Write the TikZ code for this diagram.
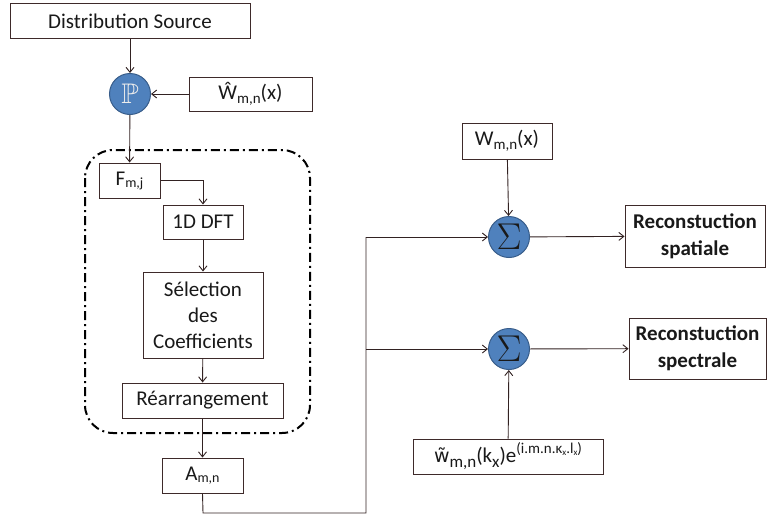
\documentclass[tikz,border=0pt]{standalone}
\usepackage{amssymb}
\usepackage{graphicx}
\usepackage{fontspec}
\setmainfont{Carlito}
\newfontfamily\djv{DejaVu Sans}
\usetikzlibrary{arrows.meta}
\definecolor{boxc}{RGB}{62,42,42}
\definecolor{txtc}{RGB}{25,25,25}
\definecolor{blfill}{RGB}{79,129,189}
\definecolor{bldraw}{RGB}{56,93,138}
\newcommand{\sbl}[1]{\raisebox{-2pt}{\fontsize{14}{14}\selectfont #1}}
\newcommand{\sbm}[1]{\raisebox{-4pt}{\fontsize{15}{15}\selectfont #1}}
\newcommand{\sbw}[1]{\raisebox{-5pt}{\fontsize{17}{17}\selectfont #1}}
\newcommand{\supx}[1]{\raisebox{9pt}{\fontsize{15}{15}\selectfont #1}}
\newcommand{\tinyx}[1]{\raisebox{-2pt}{\fontsize{9}{9}\selectfont #1}}
\begin{document}
\begin{tikzpicture}[x=1pt,y=-1pt,
  every node/.style={font=\fontsize{21}{26}\selectfont, text=txtc},
  blk/.style={draw=boxc, line width=1pt, fill=white, inner sep=0pt, align=center},
  opnode/.style={circle, draw=bldraw, line width=1pt, fill=blfill, minimum size=41pt, inner sep=0pt},
  conn/.style={draw=boxc!80!black, line width=0.9pt},
  arr/.style={conn, -{Straight Barb[length=5pt,width=8pt]}}
]
\useasboundingbox (0,0) rectangle (767,517);

% nodes
\node[blk, minimum width=240pt, minimum height=35pt] (src) at (130,21) {Distribution Source};
\node[opnode] (P) at (130,94) {\color{white!85!gray}\scalebox{1.35}{$\mathbb{P}$}};
\node[blk, minimum width=123pt, minimum height=34pt] (what) at (250.5,94) {Ŵ\sbm{m,n}(x)};

\node[blk, minimum width=61pt, minimum height=35pt] (F) at (129.5,180.5) {F\sbl{m,j}};
\node[blk, minimum width=80pt, minimum height=34pt] (dft) at (203,222) {1D DFT};
\node[blk, minimum width=120pt, minimum height=86pt] (sel) at (203,315) {Sélection\\des\\Coefficients};
\node[blk, minimum width=161pt, minimum height=35pt] (rea) at (202.5,400.5) {Réarrangement};
\node[blk, minimum width=81pt, minimum height=35pt] (A) at (202.5,475.5) {A\sbl{m,n}};

\node[blk, minimum width=90pt, minimum height=36pt] (W) at (507,141) {W\sbm{m,n}(x)};
\node[opnode] (S1) at (509,237) {\scalebox{1.8}{$\Sigma$}};
\node[blk, minimum width=140pt, minimum height=62pt, font=\fontsize{21}{27}\selectfont\bfseries] (R1) at (695,236) {Reconstuction\\spatiale};

\node[opnode] (S2) at (509,349) {\scalebox{1.8}{$\Sigma$}};
\node[blk, minimum width=137pt, minimum height=61pt, font=\fontsize{21}{27}\selectfont\bfseries] (R2) at (697.5,348.5) {Reconstuction\\spectrale};
\node[blk, minimum width=190pt, minimum height=35pt] (wt) at (508,456.5) {{\djv\fontsize{19}{19}\selectfont w̃}\sbw{m,n}(k\sbw{x})e\supx{(i.m.n.κ\tinyx{x}.l\tinyx{x})}};

% dash-dot frame
\draw[line width=2pt, rounded corners=28pt, dash pattern=on 9pt off 4pt on 2pt off 4pt] (85,150) rectangle (310,433);

% connectors
\coordinate (c1) at (203,513);
\coordinate (c2) at (366,513);
\coordinate (c3) at (366,237);
\coordinate (c4) at (366,349);

\draw[arr] (src) -- (P);
\draw[arr] (what) -- (P);
\draw[arr] (P) -- (F);
\draw[arr] (F.east) -| (dft.north);
\draw[arr] (dft) -- (sel);
\draw[arr] (sel) -- (rea);
\draw[arr] (rea) -- (A);
\draw[conn] (A.south) -- (c1) -- (c2) -- (c3);
\draw[arr] (c3) -- (S1);
\draw[arr] (c4) -- (S2);
\draw[arr] (W) -- (S1);
\draw[arr] (S1) -- (R1);
\draw[arr] (S2) -- (R2);
\draw[arr] (wt) -- (S2);
\end{tikzpicture}
\end{document}
